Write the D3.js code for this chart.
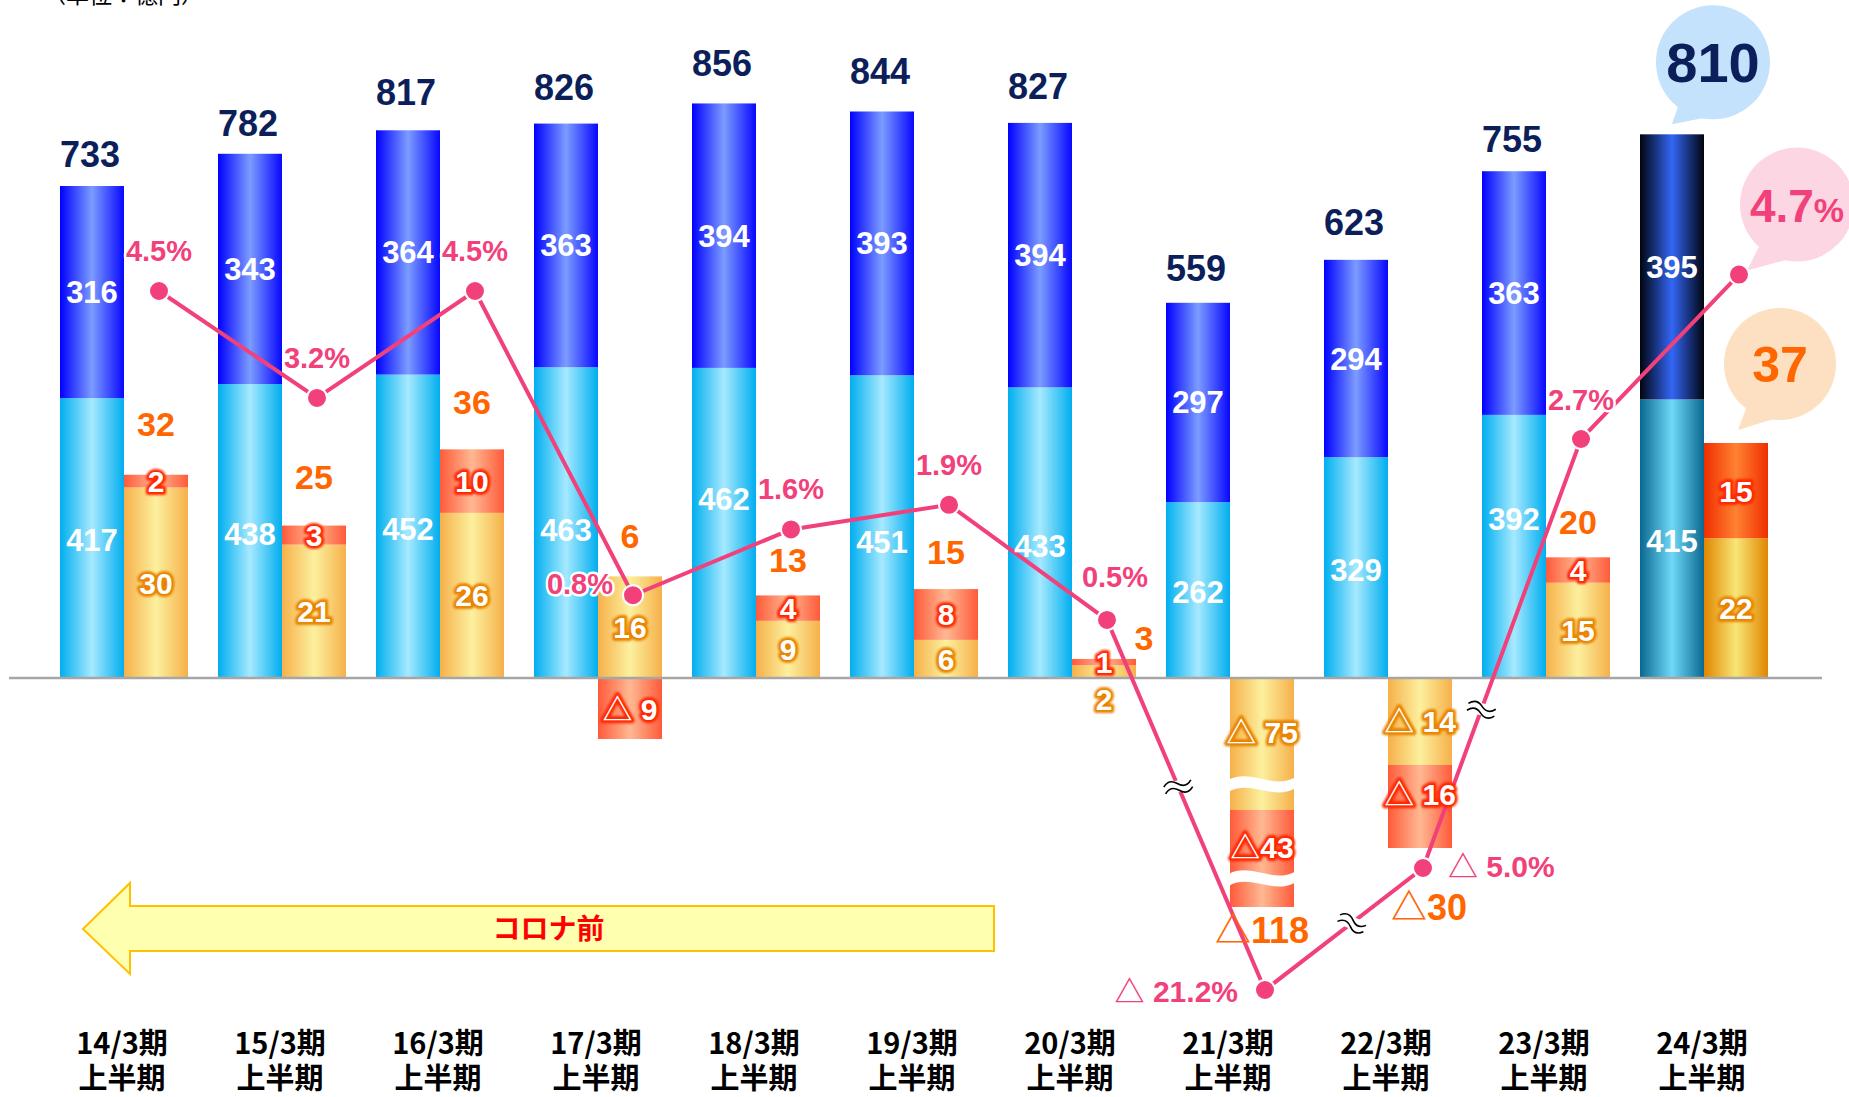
<!DOCTYPE html>
<html>
<head>
<meta charset="utf-8">
<script src="https://cdn.jsdelivr.net/npm/d3@7"></script>
<style>
  body { margin: 0; background: #fff; }
  svg { display: block; }
</style>
</head>
<body>
<svg id="chart" width="1849" height="1097"></svg>
<script>
// ---- data ----
var cats = ["14/3期","15/3期","16/3期","17/3期","18/3期","19/3期","20/3期","21/3期","22/3期","23/3期","24/3期"];
var salesLow   = [417, 438, 452, 463, 462, 451, 433, 262, 329, 392, 415];
var salesHigh  = [316, 343, 364, 363, 394, 393, 394, 297, 294, 363, 395];
var salesTotal = [733, 782, 817, 826, 856, 844, 827, 559, 623, 755, 810];
var opYellow   = [30, 21, 26, 16, 9, 6, 2, -75, -14, 15, 22];
var opRed      = [2, 3, 10, -9, 4, 8, 1, -43, -16, 4, 15];
var opTotal    = [32, 25, 36, 6, 13, 15, 3, -118, -30, 20, 37];
var margin     = [4.5, 3.2, 4.5, 0.8, 1.6, 1.9, 0.5, -21.2, -5.0, 2.7, 4.7];

// label nudges (layout only)
var totalGap   = [32, 31, 38, 37, 40, 40, 37, 35, 38, 32, 0];
var lowLabelDy = [2, 3, 3, 7, -24, 15, 13, 2, 2, -27, 2];
var opLabelDx  = [0, 0, 0, 0, 0, 0, 40, 0, 9, 0, 0];
var opLabelDy  = [-51, -49, -47, -40, -35, -37, -21, 24, 60, -35, 0];
var pctDx      = [0, 0, 0, -20, 0, 0, 8, -27, 25, 0, 0];
var pctDy      = [-40, -40, -40, -11, -40, -40, -43, 2, -1, -39, 0];
var pctAnchor  = ["middle","middle","middle","end","middle","middle","middle","end","start","middle","bubble"];

var NUM = "'Liberation Sans', Arial, 'Noto Sans CJK JP', sans-serif";
var JP = "'Noto Sans CJK JP', 'Noto Sans', sans-serif";
var PINK = "#f2407b", ORANGE = "#ff6600", NAVY = "#0c1f5a";

var svg = d3.select("#chart");
var defs = svg.append("defs");

function grad(id, edge, mid, edge2) {
  var g = defs.append("linearGradient").attr("id", id)
    .attr("x1", "0%").attr("x2", "100%").attr("y1", "0%").attr("y2", "0%");
  g.append("stop").attr("offset", "0%").attr("stop-color", edge);
  g.append("stop").attr("offset", "50%").attr("stop-color", mid);
  g.append("stop").attr("offset", "100%").attr("stop-color", edge2 || edge);
}
grad("gLight", "#00aeef", "#a6e9ff");
grad("gDark", "#0000ff", "#7c9cff", "#0808ff");
grad("gYel", "#f6b04a", "#fcf09e");
grad("gRed", "#ff5a3a", "#ffb892");
grad("gLight24", "#0a6890", "#6fd8f8");
grad("gDark24", "#000510", "#3366f5");
grad("gYel24", "#e08600", "#f8e676");
grad("gRed24", "#f02e00", "#ff8232");

var f = defs.append("filter").attr("id", "blur").attr("x", "-20%").attr("y", "-20%").attr("width", "140%").attr("height", "140%");
f.append("feGaussianBlur").attr("stdDeviation", 1.3);

// ---- scales ----
var x = d3.scaleBand().domain(cats).range([60, 1768]).paddingInner(30 / 158).paddingOuter(0);
var bw = x.bandwidth() / 2;
var yS = d3.scaleLinear().domain([0, 733]).range([678, 186]);
var yO = d3.scaleLinear().domain([-30, -9, 0, 37]).range([848, 739, 678, 443]);
var yBreak = d3.scaleLinear().domain([-118, -75, 0]).range([907, 810, 678]);
var yP = d3.scaleLinear().domain([-21.2, -5, 0, 4.5]).range([990, 868, 661, 291]);

function tri(v, sp) { return v < 0 ? "△" + (sp ? " " : "") + Math.abs(v) : String(v); }

// unit label (cut at top like the source)
svg.append("text").attr("x", 43).attr("y", 3).attr("font-family", JP).attr("font-size", 23)
  .attr("fill", "#000").text("（単位：億円）");

// ---- sales bars ----
var gS = svg.append("g");
cats.forEach(function(c, i) {
  var x0 = x(c), last = i === cats.length - 1;
  gS.append("rect").attr("x", x0).attr("width", bw)
    .attr("y", yS(salesLow[i])).attr("height", yS(0) - yS(salesLow[i]))
    .attr("fill", last ? "url(#gLight24)" : "url(#gLight)");
  gS.append("rect").attr("x", x0).attr("width", bw)
    .attr("y", yS(salesLow[i] + salesHigh[i])).attr("height", yS(salesLow[i]) - yS(salesLow[i] + salesHigh[i]))
    .attr("fill", last ? "url(#gDark24)" : "url(#gDark)");
});

// ---- operating income bars ----
var gO = svg.append("g");
var segs = [];
cats.forEach(function(c, i) {
  var sc = i === 7 ? yBreak : yO, pos = 0, neg = 0, last = i === cats.length - 1;
  [[opYellow[i], "Yel", "#e88400"], [opRed[i], "Red", "#ff2800"]].forEach(function(s, k) {
    var v = s[0], a, b;
    if (v >= 0) { a = pos; b = pos + v; pos = b; } else { a = neg; b = neg + v; neg = b; }
    var yt = Math.min(sc(a), sc(b)), yb = Math.max(sc(a), sc(b));
    gO.append("rect").attr("x", x(c) + bw).attr("width", bw)
      .attr("y", yt).attr("height", yb - yt)
      .attr("fill", "url(#g" + s[1] + (last ? "24" : "") + ")");
    segs.push({ i: i, k: k, v: v, yt: yt, yb: yb, glow: s[2] });
  });
});

// wavy breaks in the 21/3 bar
[-60, -105].forEach(function(v) {
  var x0 = x(cats[7]) + bw, x1 = x0 + bw, yc = yBreak(v), w = bw;
  gO.append("path").attr("fill", "#fff").attr("d",
    "M" + (x0 - 1) + "," + (yc - 4) +
    " C" + (x0 + w / 3) + "," + (yc - 15) + " " + (x0 + 2 * w / 3) + "," + (yc + 6) + " " + (x1 + 1) + "," + (yc - 6) +
    " L" + (x1 + 1) + "," + (yc + 5) +
    " C" + (x0 + 2 * w / 3) + "," + (yc + 17) + " " + (x0 + w / 3) + "," + (yc - 4) + " " + (x0 - 1) + "," + (yc + 8) + " Z");
});

// baseline
svg.append("line").attr("x1", 9).attr("x2", 1822).attr("y1", yS(0)).attr("y2", yS(0))
  .attr("stroke", "#a6a6a6").attr("stroke-width", 2.5);

// ---- arrow "コロナ前" ----
var ax0 = x(cats[0]) + 23, ax1 = x(cats[6]) - 14, ay = 929;
svg.append("path").attr("fill", "#ffffb0").attr("stroke", "#ffc000").attr("stroke-width", 2)
  .attr("d", "M" + ax0 + "," + ay + " L" + (ax0 + 47) + "," + (ay - 46) + " L" + (ax0 + 47) + "," + (ay - 23) +
    " L" + ax1 + "," + (ay - 23) + " L" + ax1 + "," + (ay + 22) + " L" + (ax0 + 47) + "," + (ay + 22) +
    " L" + (ax0 + 47) + "," + (ay + 45) + " Z");
svg.append("text").attr("x", (ax0 + ax1) / 2 + 10).attr("y", ay + 10).attr("text-anchor", "middle")
  .attr("font-family", JP).attr("font-weight", "bold").attr("font-size", 28).attr("fill", "#ff0000").text("コロナ前");

// ---- bubbles ----
function bubble(cx, cy, r, tx, ty, color) {
  var a = Math.atan2(ty - cy, tx - cx);
  var p1 = [cx + r * 0.95 * Math.cos(a - 0.55), cy + r * 0.95 * Math.sin(a - 0.55)];
  var p2 = [cx + r * 0.95 * Math.cos(a + 0.1), cy + r * 0.95 * Math.sin(a + 0.1)];
  svg.append("path").attr("fill", color).attr("d", "M" + p1 + " L" + tx + "," + ty + " L" + p2 + " Z");
  svg.append("circle").attr("cx", cx).attr("cy", cy).attr("r", r).attr("fill", color);
}
var L = cats.length - 1, cL = cats[L];
var bxS = x(cL) + bw / 2, byS = yS(salesTotal[L]);
var bxO = x(cL) + bw * 1.5, byO = yO(opTotal[L]);
var pxL = x(cL) + bw * 1.5 + 3, pyL = yP(margin[L]);
bubble(bxS + 41, byS - 72, 57, bxS, byS - 10, "#c4e2fb");
bubble(bxO + 44, byO - 79, 56, bxO + 2, byO - 13, "#fde0c2");
bubble(pxL + 58, pyL - 70, 57, pxL + 8, pyL - 4, "#fdd6e4");

// ---- margin line ----
var pts = cats.map(function(c, i) { return [x(c) + bw * 1.5 + 3, yP(margin[i])]; });
svg.append("path").attr("d", d3.line()(pts)).attr("fill", "none")
  .attr("stroke", PINK).attr("stroke-width", 4);

// break marks on the line
[[6, 0.45, -15], [7, 0.55, 22], [8, 0.37, 12]].forEach(function(b) {
  var p = pts[b[0]], q = pts[b[0] + 1];
  var mx = p[0] + (q[0] - p[0]) * b[1], my = p[1] + (q[1] - p[1]) * b[1];
  var g = svg.append("g").attr("transform", "translate(" + mx + "," + my + ") rotate(" + b[2] + ")");
  g.append("rect").attr("x", -14).attr("y", -6).attr("width", 28).attr("height", 12).attr("fill", "#fff");
  g.append("path").attr("d", "M-14,-3 q7,-7 14,0 t14,0").attr("fill", "none").attr("stroke", "#000").attr("stroke-width", 1.6);
  g.append("path").attr("d", "M-14,4 q7,-7 14,0 t14,0").attr("fill", "none").attr("stroke", "#000").attr("stroke-width", 1.6);
});

svg.append("g").selectAll("circle").data(pts).join("circle")
  .attr("cx", function(d) { return d[0]; }).attr("cy", function(d) { return d[1]; })
  .attr("r", 10).attr("fill", PINK).attr("stroke", "#fff").attr("stroke-width", 2);

// ---- labels ----
var gT = svg.append("g");

// sales segment + totals
cats.forEach(function(c, i) {
  var cx = x(c) + bw / 2;
  var top = yS(salesLow[i] + salesHigh[i]);
  var mLow = (yS(0) + yS(salesLow[i])) / 2 + lowLabelDy[i], mHigh = (yS(salesLow[i]) + top) / 2;
  [[salesLow[i], mLow], [salesHigh[i], mHigh]].forEach(function(s) {
    gT.append("text").attr("x", cx).attr("y", s[1] + 11).attr("text-anchor", "middle")
      .attr("font-family", NUM).attr("font-weight", "bold").attr("font-size", 31).attr("fill", "#fff").text(s[0]);
  });
  var big = i === L;
  gT.append("text").attr("x", big ? cx + 41 : cx - 2)
    .attr("y", big ? top - 72 + 20 : top - totalGap[i] + 13)
    .attr("text-anchor", "middle").attr("font-family", NUM).attr("font-weight", "bold")
    .attr("font-size", big ? 56 : 36).attr("fill", NAVY).text(salesTotal[i]);
});

// glow text for orange segments
function glow(px, py, txt, size, color) {
  [0, 1].forEach(function(k) {
    var t = gT.append("text").attr("x", px).attr("y", py).attr("text-anchor", "middle")
      .attr("font-family", NUM).attr("font-weight", "bold").attr("font-size", size).text(txt);
    if (k === 0) t.attr("fill", color).attr("stroke", color).attr("stroke-width", 6)
      .attr("stroke-linejoin", "round").attr("filter", "url(#blur)");
    else t.attr("fill", "#fff");
  });
}
segs.forEach(function(s) {
  var cx = x(cats[s.i]) + bw * 1.5, my = (s.yt + s.yb) / 2;
  if (s.yb - s.yt < 16 && s.k === 0) my = yS(0) + 21; // tiny segment: label below axis
  if (s.i === 7 || (s.i === 8 && s.k === 1)) my -= 12;
  glow(cx, my + 11, tri(s.v, !(s.i === 7 && s.k === 1)), 30, s.glow);
});

// operating income totals
cats.forEach(function(c, i) {
  var cx = x(c) + bw * 1.5, v = opTotal[i];
  if (i === L) {
    gT.append("text").attr("x", cx + 44).attr("y", yO(v) - 79 + 18).attr("text-anchor", "middle")
      .attr("font-family", NUM).attr("font-weight", "bold").attr("font-size", 50).attr("fill", ORANGE).text(v);
    return;
  }
  var sc = i === 7 ? yBreak : yO;
  var edge = v >= 0 ? sc(Math.max(opYellow[i], 0) + Math.max(opRed[i], 0)) : sc(Math.min(opYellow[i], 0) + Math.min(opRed[i], 0));
  gT.append("text").attr("x", cx + opLabelDx[i]).attr("y", edge + opLabelDy[i] + 12).attr("text-anchor", "middle")
    .attr("font-family", NUM).attr("font-weight", "bold").attr("font-size", v < 0 ? 36 : 34)
    .attr("fill", ORANGE).text(tri(v, false));
});

// margin labels
pts.forEach(function(p, i) {
  var v = margin[i];
  if (pctAnchor[i] === "bubble") {
    var t = gT.append("text").attr("x", p[0] + 58).attr("y", p[1] - 70 + 17).attr("text-anchor", "middle")
      .attr("font-family", NUM).attr("font-weight", "bold").attr("fill", PINK);
    t.append("tspan").attr("font-size", 46).text(v.toFixed(1));
    t.append("tspan").attr("font-size", 34).text("%");
    return;
  }
  var txt = (v < 0 ? "△ " + Math.abs(v).toFixed(1) : v.toFixed(1)) + "%";
  gT.append("text").attr("x", p[0] + pctDx[i]).attr("y", p[1] + pctDy[i] + 10)
    .attr("text-anchor", pctAnchor[i]).attr("font-family", NUM).attr("font-weight", "bold")
    .attr("font-size", v < 0 ? 30 : 29).attr("fill", PINK)
    .attr("stroke", "#fff").attr("stroke-width", 5).attr("stroke-linejoin", "round")
    .attr("paint-order", "stroke").text(txt);
});

// category labels (two lines in one text)
var gX = svg.append("g");
cats.forEach(function(c) {
  var cx = x(c) + bw - 2;
  var t = gX.append("text").attr("x", cx).attr("y", 1054).attr("text-anchor", "middle")
    .attr("font-family", JP).attr("font-weight", "bold").attr("font-size", 29).attr("fill", "#000");
  t.append("tspan").attr("x", cx).text(c);
  t.append("tspan").attr("x", cx).attr("dy", 35).text("上半期");
});
</script>
</body>
</html>
